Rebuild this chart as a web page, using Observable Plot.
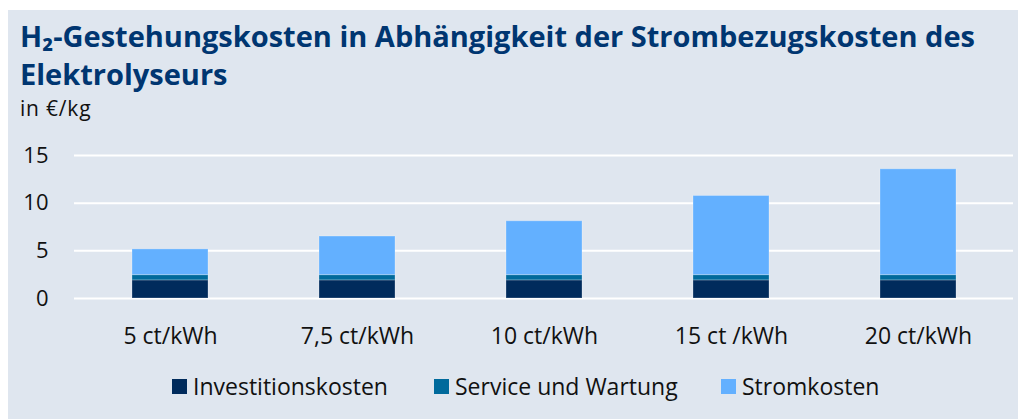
<!DOCTYPE html>
<html><head><meta charset="utf-8">
<script src="https://cdn.jsdelivr.net/npm/d3@7"></script>
<script src="https://cdn.jsdelivr.net/npm/@observablehq/plot@0.6"></script>
<style>
html,body{margin:0;padding:0;background:#fff;}
#card{position:absolute;left:8px;top:10px;width:1010px;height:409px;background:#dfe6ef;font-family:"Open Sans","Noto Sans",sans-serif;color:#111;}
#title{position:absolute;left:12px;top:7px;font-weight:700;font-size:29px;line-height:38px;color:#003671;width:998px;}
#unit{position:absolute;left:12px;top:88px;font-size:21px;line-height:20px;letter-spacing:0.8px;}
#chart{position:absolute;left:0;top:120px;}
#legend{position:absolute;left:0;top:361px;width:1010px;font-size:23px;}
.li{position:absolute;top:0;display:flex;align-items:center;height:30px;}
.sw{width:15px;height:15px;margin-right:6px;}
</style></head>
<body>
<div id="card">
<div id="title">H₂-Gestehungskosten in Abhängigkeit der Strombezugskosten des Elektrolyseurs</div>
<div id="unit">in €/kg</div>
<div id="chart"></div>
<div id="legend"></div>
</div>
<script>
const categories = ["5 ct/kWh","7,5 ct/kWh","10 ct/kWh","15 ct /kWh","20 ct/kWh"];
const seriesNames = ["Investitionskosten","Service und Wartung","Stromkosten"];
const investition = [1.9,1.9,1.9,1.9,1.9];
const service = [0.55,0.55,0.55,0.55,0.55];
const strom = [2.7,4.05,5.65,8.3,11.1];
const colors = ["#002b5c","#006a9c","#63b0ff"];
const yTicks = [0,5,10,15];

const rows = [];
categories.forEach((c,i)=>{
  rows.push({cat:c, series:seriesNames[0], value:investition[i]});
  rows.push({cat:c, series:seriesNames[1], value:service[i]});
  rows.push({cat:c, series:seriesNames[2], value:strom[i]});
});

const chart = Plot.plot({
  width:1010, height:230,
  marginLeft:66, marginRight:5, marginTop:25, marginBottom:62,
  style:{background:"transparent", fontFamily:"'Open Sans', 'Noto Sans', sans-serif", fontSize:"22px", color:"#111"},
  x:{domain:categories, paddingInner:0.595, paddingOuter:0.2975, label:null},
  y:{domain:[0,15], label:null},
  color:{domain:seriesNames, range:colors},
  marks:[
    Plot.gridY(yTicks,{stroke:"#fff", strokeWidth:2, strokeOpacity:1}),
    Plot.axisY({ticks:yTicks, tickSize:0, tickPadding:26, label:null, fontSize:22}),
    Plot.axisX({tickSize:0, tickPadding:29, label:null, fontSize:23}),
    Plot.barY(rows, Plot.stackY({x:"cat", y:"value", fill:"series", order:seriesNames, stroke:"#ffffff", strokeOpacity:0.25, strokeWidth:1}))
  ]
});
document.getElementById("chart").appendChild(chart);

const lx = [164, 426, 713];
const leg = document.getElementById("legend");
seriesNames.forEach((n,i)=>{
  const d = document.createElement("div");
  d.className="li"; d.style.left=lx[i]+"px";
  d.innerHTML = `<span class="sw" style="background:${colors[i]}"></span><span>${n}</span>`;
  leg.appendChild(d);
});
</script>
</body></html>
